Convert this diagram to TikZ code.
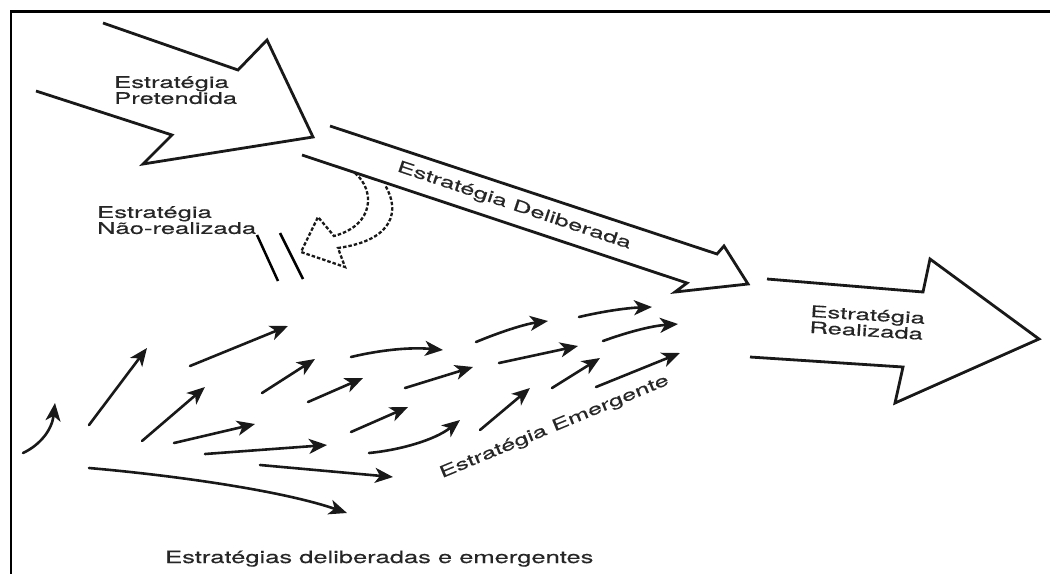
\documentclass[tikz,border=0pt]{standalone}
\usepackage{fontspec}
\newfontfamily\lf[FakeStretch=1.6,FakeBold=0.3]{TeX Gyre Heros}
\newfontfamily\lfc[FakeStretch=1.5,FakeBold=0.3]{TeX Gyre Heros}
\usetikzlibrary{arrows.meta}
\begin{document}
\begin{tikzpicture}[x=1pt,y=-1pt,
  bigarrow/.style={line width=2.8pt, line join=miter, black!90},
  small/.style={line width=2.6pt, line cap=round, black!90, -{Stealth[length=18pt,width=15pt,inset=5pt]}},
  dashedarrow/.style={line width=2.3pt, dash pattern=on 3.5pt off 2pt, black!90},
  lbl/.style={font=\lf\fontsize{16}{16}\selectfont, inner sep=0pt, text=black!85, align=left},
  captext/.style={font=\lfc\fontsize{17}{18}\selectfont, inner sep=0pt, text=black!85},
  ]
\useasboundingbox (0,0) rectangle (1050,574);
\fill[white] (0,0) rectangle (1050,574);
\draw[line width=2.5pt] (1050,11.5) -- (11,11.5) -- (11,574);

% Estrategia Pretendida
\draw[bigarrow] (103,23) -- (238,70) -- (267,40) -- (313,137) -- (143,164) -- (172,135) -- (36,91);
\node[lbl, anchor=north west] (pret) at (114,76) {Estratégia\\Pretendida};

% Estrategia Deliberada
\draw[bigarrow] (330,126) -- (717,254) -- (724,246) -- (748,284) -- (675,292) -- (687,283) -- (302,155);
\node[lbl, rotate=-18.5] (delib) at (514,206) {Estratégia Deliberada};

% Estrategia Realizada
\draw[bigarrow] (767,279) -- (923,292) -- (930,259) -- (1039,339) -- (895,403) -- (903,367) -- (750,357);
\node[lbl, anchor=north west, rotate=-3.5] (real) at (810.7,305) {Estratégia\\Realizada};

% Estrategia Nao-realizada
\draw[dashedarrow] (355,173) .. controls (375,190) and (375,225) .. (334,236)
  -- (318,217) -- (301,252) -- (345,267) -- (338,248)
  .. controls (395,240) and (400,210) .. (385,185);
\node[lbl, anchor=north west] (nr) at (97,206) {Estratégia\\Não-realizada};
\draw[line width=2.5pt] (257,235) -- (278,281);
\draw[line width=2.5pt] (280,233) -- (303,279);

% emergent arrows
\draw[small] (23,453) .. controls (40,445) and (52,430) .. (55,403);
\draw[small] (89,425) -- (147,348);
\draw[small] (190,366) -- (288,326);
\draw[small] (142,441) -- (205,387);
\draw[small] (262,393) -- (315,359);
\draw[small] (308,402) -- (363,378);
\draw[small] (351,357) .. controls (380,350) and (410,347) .. (443,350);
\draw[small] (405,388) -- (473,367);
\draw[small] (174,443) -- (255,424);
\draw[small] (205,454) -- (327,445);
\draw[small] (351,432) -- (408,407);
\draw[small] (369,453) .. controls (400,450) and (435,440) .. (460,420);
\draw[small] (260,465) -- (393,477);
\draw[small] (89,468) .. controls (170,475) and (280,490) .. (347,513);
\draw[small] (476,342) .. controls (500,332) and (525,324) .. (548,321);
\draw[small] (499,363) -- (578,346);
\draw[small] (480,430) -- (530,388);
\draw[small] (579,317) .. controls (600,312) and (625,308) .. (652,307);
\draw[small] (603,341) .. controls (625,333) and (650,326) .. (678,324);
\draw[small] (552,388) -- (600,358);
\draw[small] (596,387) -- (680,353);
\node[lbl, anchor=base, rotate=22.5] (emerg) at (556,431) {Estratégia Emergente};

% caption
\node[captext, anchor=base west] (caption) at (165,563) {Estratégias deliberadas e emergentes};
\end{tikzpicture}
\end{document}
